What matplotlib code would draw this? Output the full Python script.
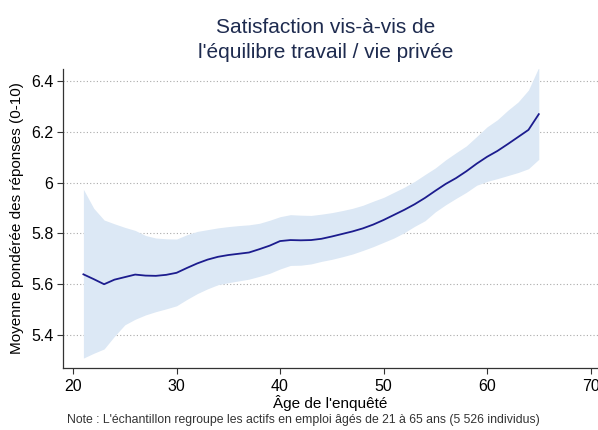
import matplotlib
matplotlib.use("Agg")
import matplotlib.pyplot as plt

ages = list(range(21, 66))
mean = [5.639, 5.620, 5.600, 5.618, 5.628, 5.638, 5.634, 5.633, 5.637, 5.645,
        5.664, 5.682, 5.697, 5.708, 5.715, 5.720, 5.725, 5.738, 5.752, 5.770,
        5.774, 5.773, 5.774, 5.779, 5.788, 5.798, 5.808, 5.820, 5.835, 5.853,
        5.873, 5.893, 5.915, 5.940, 5.968, 5.995, 6.018, 6.045, 6.075, 6.102,
        6.125, 6.152, 6.180, 6.208, 6.270]
upper = [5.974, 5.899, 5.853, 5.838, 5.824, 5.812, 5.792, 5.782, 5.779, 5.778,
         5.795, 5.808, 5.815, 5.822, 5.827, 5.831, 5.834, 5.840, 5.852, 5.866,
         5.874, 5.872, 5.871, 5.876, 5.882, 5.890, 5.899, 5.911, 5.927, 5.942,
         5.962, 5.982, 6.005, 6.032, 6.058, 6.090, 6.118, 6.145, 6.182, 6.220,
         6.248, 6.285, 6.318, 6.365, 6.455]
lower = [5.309, 5.328, 5.345, 5.395, 5.440, 5.462, 5.479, 5.492, 5.503, 5.515,
         5.540, 5.563, 5.582, 5.598, 5.606, 5.613, 5.620, 5.631, 5.643, 5.660,
         5.674, 5.675, 5.680, 5.690, 5.698, 5.708, 5.719, 5.733, 5.748, 5.765,
         5.782, 5.803, 5.828, 5.850, 5.885, 5.913, 5.938, 5.962, 5.990, 6.005,
         6.016, 6.028, 6.040, 6.055, 6.092]
xticks = [20, 30, 40, 50, 60, 70]
yticks = [5.4, 5.6, 5.8, 6.0, 6.2, 6.4]
ytick_labels = ["5.4", "5.6", "5.8", "6", "6.2", "6.4"]

plt.rcParams['font.family'] = ['Liberation Sans', 'DejaVu Sans']

fig = plt.figure(figsize=(5.98, 4.30), dpi=100)
ax = fig.add_axes([0.1059, 0.1442, 0.8941, 0.6960])

ax.fill_between(ages, lower, upper, color='#dce8f5', linewidth=0, zorder=2)
ax.plot(ages, mean, color='#1c1c8e', linewidth=1.3, zorder=3)

ax.set_xlim(19.06, 70.72)
ax.set_ylim(5.27, 6.449)
ax.set_xticks(xticks)
ax.set_yticks(yticks)
ax.set_yticklabels(ytick_labels)
ax.tick_params(axis='both', labelsize=11.5, color='#333333', length=4, width=0.8, direction='out')
ax.tick_params(axis='x', pad=4)
ax.tick_params(axis='y', pad=3)
ax.yaxis.grid(True, linestyle=(0, (1, 2)), color='#aaaaaa', linewidth=0.8, zorder=1)
ax.set_axisbelow(True)
for s in ['top', 'right']:
    ax.spines[s].set_visible(False)
for s in ['left', 'bottom']:
    ax.spines[s].set_color('#333333')
    ax.spines[s].set_linewidth(0.9)

ax.set_xlabel("Âge de l'enquêté", fontsize=11, labelpad=1)
ax.set_ylabel("Moyenne pondérée des réponses (0-10)", fontsize=11, labelpad=5)

fig.text(0.545, 0.936, "Satisfaction vis-à-vis de", ha='center', va='center',
         fontsize=15, color='#1e2b4f')
fig.text(0.545, 0.877, "l'équilibre travail / vie privée", ha='center', va='center',
         fontsize=15, color='#1e2b4f')
fig.text(0.508, 0.024, "Note : L'échantillon regroupe les actifs en emploi âgés de 21 à 65 ans (5 526 individus)",
         ha='center', va='center', fontsize=8.8, color='#333333')

fig.savefig("out.png", dpi=100)
